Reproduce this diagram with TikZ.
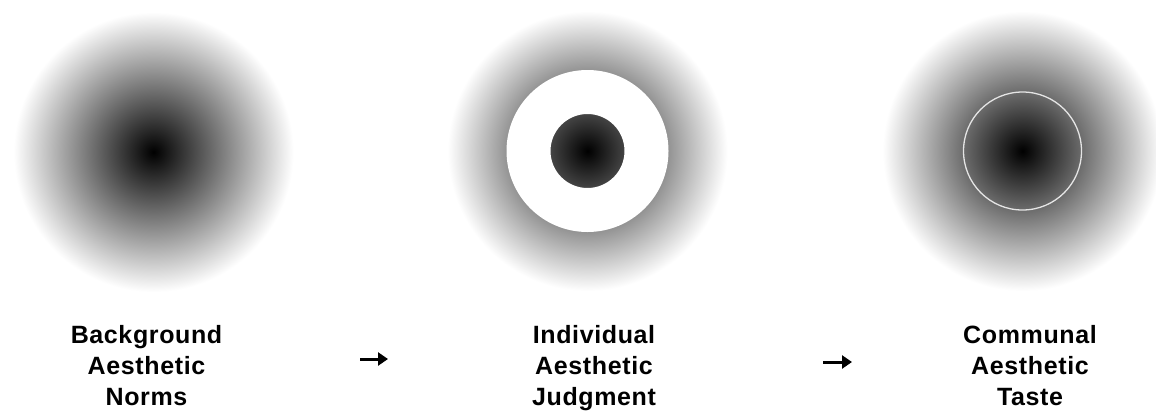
\documentclass[tikz,border=0pt]{standalone}
\usepackage{fontspec}
\setmainfont{Liberation Sans}[LetterSpace=2.5]
\usetikzlibrary{arrows.meta}
\pgfdeclareradialshading{fade}{\pgfpoint{0bp}{0bp}}{color(0bp)=(black); color(25bp)=(white); color(50bp)=(white)}
\tikzset{
  lbl/.style={font=\bfseries\fontsize{25}{25}\selectfont, anchor=base, inner sep=0pt},
  disc/.style={shading=fade},
  flow/.style={line width=3pt, -{Triangle[length=10pt,width=13pt]}},
}
\begin{document}
\begin{tikzpicture}[x=1pt,y=-1pt]
\fill[white] (0,0) rectangle (1156,413);
\useasboundingbox (0,0) rectangle (1156,413);
\coordinate (c1) at (153.5,152);
\coordinate (c2) at (587.5,151);
\coordinate (c3) at (1022.5,151);
% discs
\shade[disc] (c1) circle[radius=140pt];
\shade[disc] (c2) circle[radius=140pt];
\shade[disc] (c3) circle[radius=140pt];
\fill[white, even odd rule] (c2) circle[radius=81pt] circle[radius=37pt];
\draw[white!90!black, line width=1.3pt] (c3) circle[radius=59pt];
% labels
\node[lbl] (b1) at (146.5,343) {Background};
\node[lbl] (b2) at (146.5,374) {Aesthetic};
\node[lbl] (b3) at (146.5,405) {Norms};
\node[lbl] (i1) at (594,343) {Individual};
\node[lbl] (i2) at (594,374) {Aesthetic};
\node[lbl] (i3) at (594,405) {Judgment};
\node[lbl] (m1) at (1030,343) {Communal};
\node[lbl] (m2) at (1030,374) {Aesthetic};
\node[lbl] (m3) at (1030,405) {Taste};
% arrows
\coordinate (a1s) at (360,359);
\coordinate (a1e) at (388,359);
\coordinate (a2s) at (823,362);
\coordinate (a2e) at (852,362);
\draw[flow] (a1s) -- (a1e);
\draw[flow] (a2s) -- (a2e);
\end{tikzpicture}
\end{document}
